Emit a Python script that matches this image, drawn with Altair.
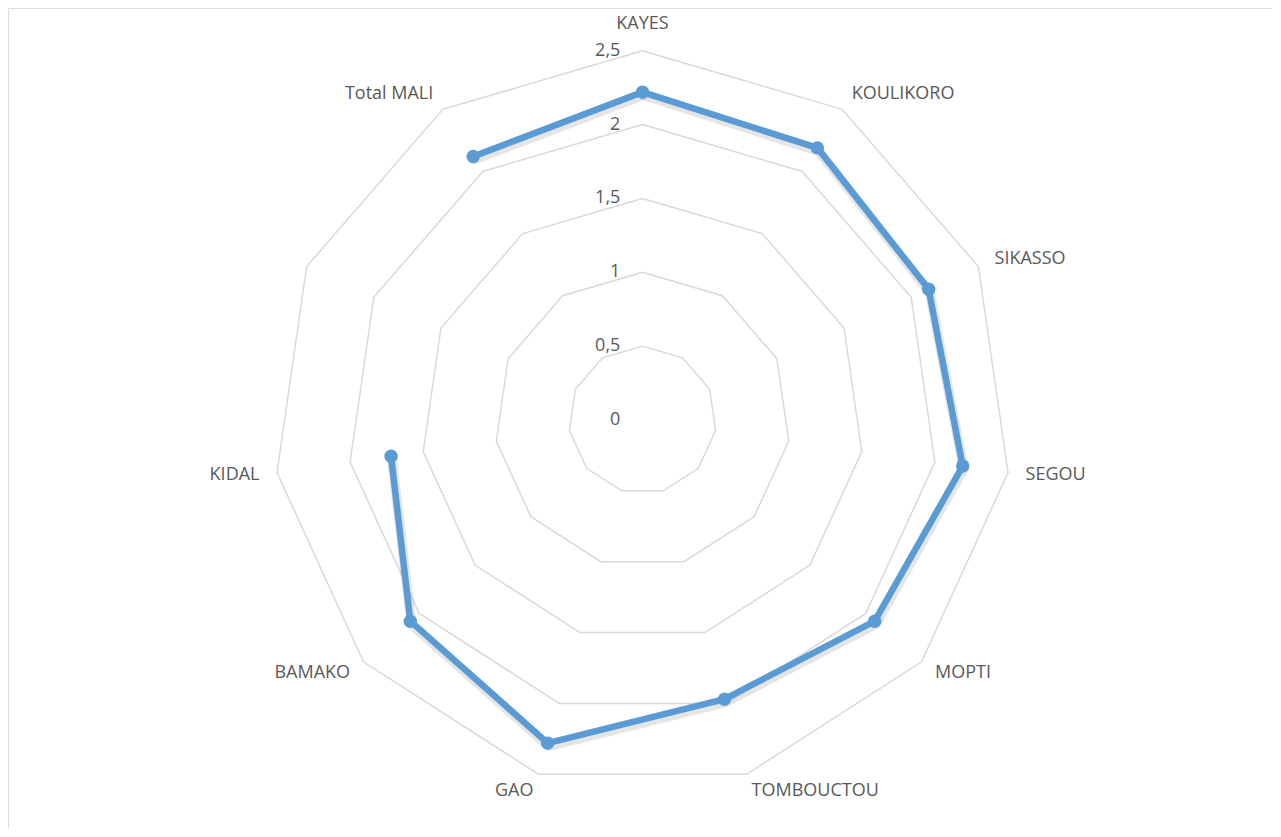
import math
import altair as alt
import pandas as pd

# Data (comma decimals in tick labels)
categories = ["KAYES", "KOULIKORO", "SIKASSO", "SEGOU", "MOPTI", "TOMBOUCTOU",
              "GAO", "BAMAKO", "KIDAL", "", "Total MALI"]
values = [2.22, 2.19, 2.13, 2.19, 2.08, 1.97, 2.28, 2.08, 1.72, None, 2.12]
ticks = [0, 0.5, 1, 1.5, 2, 2.5]
tick_labels = ["0", "0,5", "1", "1,5", "2", "2,5"]

N = len(categories)
BLUE = "#5B9BD5"
GRID = "#D9D9D9"
TEXT = "#595959"
FONT = "Open Sans"
FS = 18

# grid rings
ring_rows = []
for t in ticks[1:]:
    for k in range(N + 1):
        ring_rows.append({"ring": t, "order": k, "idx": k % N, "r": t})
rings = pd.DataFrame(ring_rows)

# series line, broken at missing values, closed back to the first category
line_rows = []
seg = 0
order = 0
for k in range(N + 1):
    i = k % N
    v = values[i]
    if v is None:
        seg += 1
        continue
    line_rows.append({"seg": seg, "order": order, "idx": i, "r": v})
    order += 1
line_df = pd.DataFrame(line_rows)

pts = pd.DataFrame({"idx": list(range(N)), "r": values, "cat": categories}).dropna(subset=["r"])
labs = pd.DataFrame({"idx": list(range(N)), "cat": categories})
tk = pd.DataFrame({"t": ticks, "lab": tick_labels})

XDOM = [-4.2959, 4.2620]
YDOM = [-2.7624, 2.7894]
xs = alt.Scale(domain=XDOM, nice=False, zero=False)
ys = alt.Scale(domain=YDOM, nice=False, zero=False)
X = alt.X("x:Q", scale=xs, axis=None)
Y = alt.Y("y:Q", scale=ys, axis=None)

ang = f"datum.idx * 2 * PI / {N}"


def polarize(ch):
    return ch.transform_calculate(theta=ang).transform_calculate(
        x="datum.r * sin(datum.theta)", y="datum.r * cos(datum.theta)")


ring_layer = polarize(alt.Chart(rings)).mark_line(
    color=GRID, strokeWidth=1.5).encode(
    x=X, y=Y, detail="ring:N", order="order:Q")

shadow = polarize(alt.Chart(line_df)).mark_line(
    color="#000000", opacity=0.10, strokeWidth=10, xOffset=1, yOffset=3,
    strokeCap="round", strokeJoin="round").encode(
    x=X, y=Y, detail="seg:N", order="order:Q")

series = polarize(alt.Chart(line_df)).mark_line(
    color=BLUE, strokeWidth=6.5, strokeCap="round", strokeJoin="round").encode(
    x=X, y=Y, detail="seg:N", order="order:Q")

points = polarize(alt.Chart(pts)).mark_circle(
    color=BLUE, opacity=1, size=180).encode(x=X, y=Y)

tick_text = alt.Chart(tk).transform_calculate(
    x="-0.15", y="datum.t").mark_text(
    align="right", baseline="middle", font=FONT, fontSize=FS, color=TEXT).encode(
    x=X, y=Y, text="lab:N")

LR = 2.62
cat_text = alt.Chart(labs).transform_calculate(theta=ang).transform_calculate(
    x=f"{LR} * sin(datum.theta)", y=f"{LR} * cos(datum.theta)",
    al="sin(datum.theta) > 0.1 ? 'left' : (sin(datum.theta) < -0.1 ? 'right' : 'center')",
    bl="cos(datum.theta) > 0.99 ? 'bottom' : 'middle'",
).mark_text(font=FONT, fontSize=FS, color=TEXT,
            align=alt.ExprRef(expr="datum.al"),
            baseline=alt.ExprRef(expr="datum.bl")).encode(
    x=X, y=Y, text="cat:N")

chart = alt.layer(ring_layer, shadow, series, points, tick_text, cat_text).properties(
    width=1264, height=820,
    autosize=alt.AutoSizeParams(type="none"),
    padding={"left": 0, "top": 0, "right": 0, "bottom": 0},
).configure_view(stroke=GRID, strokeWidth=2).configure(background="white")

chart.save("out.html", embed_options={"renderer": "svg", "actions": False})
